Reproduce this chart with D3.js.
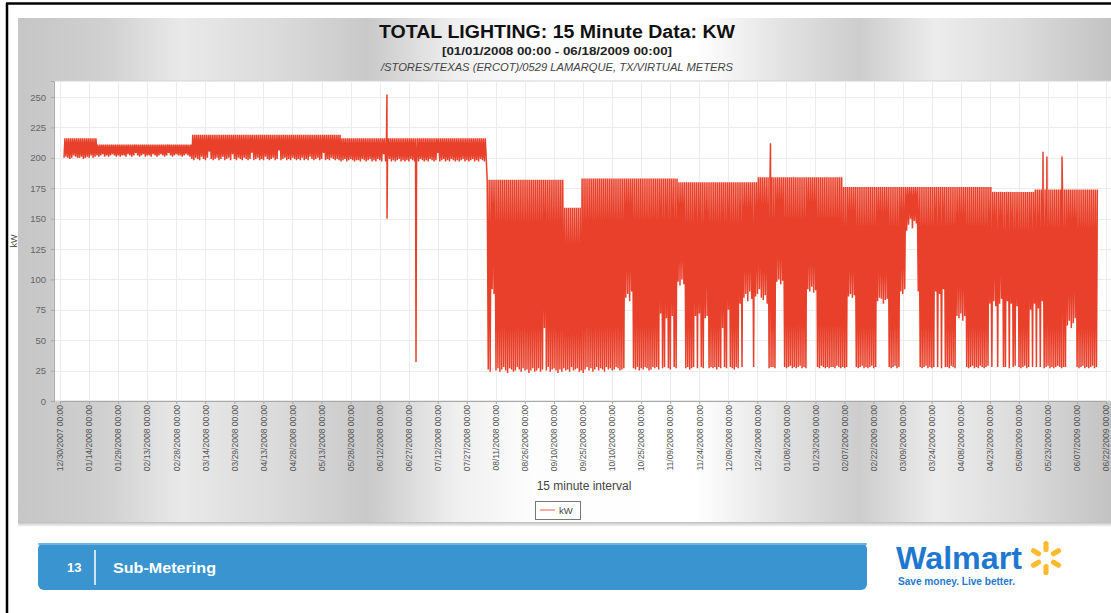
<!DOCTYPE html>
<html><head><meta charset="utf-8">
<script src="https://cdn.jsdelivr.net/npm/d3@7"></script>
<style>html,body{margin:0;padding:0;background:#fff;overflow:hidden}svg{display:block}</style>
</head><body>
<svg id="c" width="1111" height="613"></svg>
<script>
// ---------------- text ----------------
const chartTitle = "TOTAL LIGHTING: 15 Minute Data: KW";
const chartRange = "[01/01/2008 00:00 - 06/18/2009 00:00]";
const chartPath = "/STORES/TEXAS (ERCOT)/0529 LAMARQUE, TX/VIRTUAL METERS";
const xAxisTitle = "15 minute interval";
const yAxisTitle = "kW";
const seriesName = "kW";
const slideNumber = "13";
const slideSection = "Sub-Metering";

// ---------------- ticks ----------------
const yTicks = [0, 25, 50, 75, 100, 125, 150, 175, 200, 225, 250];
const xTickLabels = [
  "12/30/2007 00:00","01/14/2008 00:00","01/29/2008 00:00","02/13/2008 00:00","02/28/2008 00:00",
  "03/14/2008 00:00","03/29/2008 00:00","04/13/2008 00:00","04/28/2008 00:00","05/13/2008 00:00",
  "05/28/2008 00:00","06/12/2008 00:00","06/27/2008 00:00","07/12/2008 00:00","07/27/2008 00:00",
  "08/11/2008 00:00","08/26/2008 00:00","09/10/2008 00:00","09/25/2008 00:00","10/10/2008 00:00",
  "10/25/2008 00:00","11/09/2008 00:00","11/24/2008 00:00","12/09/2008 00:00","12/24/2008 00:00",
  "01/08/2009 00:00","01/23/2009 00:00","02/07/2009 00:00","02/22/2009 00:00","03/09/2009 00:00",
  "03/24/2009 00:00","04/08/2009 00:00","04/23/2009 00:00","05/08/2009 00:00","05/23/2009 00:00",
  "06/07/2009 00:00","06/22/2009 00:00"
];

// ---------------- data: night-time (low) kW, one value per day ----------------
const low2008_01 = [200,201,200,199,200,202,201,200,200,201,199,200,201,200,202,200,201,202,201,202,203,201,202,201,202,203,202,201,202,201,202];
const low2008_02 = [202,201,203,202,201,202,204,202,201,202,203,201,202,202,201,203,202,201,202,203,202,201,202,204,202,201,202,203,202];
const low2008_03 = [202,201,202,203,202,201,199,198,200,199,198,201,199,198,200,205,199,198,199,200,198,199,201,198,199,200,198,203,199,198,200];
const low2008_04 = [199,198,200,199,198,199,204,198,199,200,198,199,198,201,199,198,199,200,198,199,206,198,199,200,198,199,198,200,199,198];
const low2008_05 = [199,198,200,198,199,198,201,199,198,199,200,198,199,204,198,199,198,200,199,198,199,198,197,198,199,197,198,199,198,197,198];
const low2008_06 = [198,197,199,198,197,198,199,197,198,197,199,198,197,203,197,198,199,197,198,197,198,199,197,198,197,198,197,199,198,197];
const low2008_07 = [198,197,199,198,197,198,197,199,198,197,198,204,197,198,199,197,198,197,199,198,197,198,197,198,199,197,198,197,198,199,197];
const low2008_08 = [198,197,199,198,197,198,26,24,92,88,25,27,24,26,28,25,23,27,26,24,25,28,26,24,27,25,26,23,25,27,24];
const low2008_09 = [25,27,24,26,60,25,28,24,26,27,25,23,26,24,27,25,26,24,28,25,26,27,24,25,23,26,28,25,27,24];
const low2008_10 = [26,28,25,27,26,24,28,26,27,25,26,28,27,25,26,27,85,88,82,90,27,26,28,25,27,26,28,27,25,26,28];
const low2008_11 = [27,28,26,72,27,28,68,27,26,70,28,27,98,95,100,96,27,28,26,27,28,70,27,72,28,27,68,70,27,28];
const low2008_12 = [27,28,26,28,27,60,28,27,75,28,27,26,28,27,80,28,85,88,82,90,84,28,86,88,92,85,83,87,80,27,28];
const low2009_01 = [28,27,98,100,96,99,28,27,28,29,27,28,27,28,29,27,28,27,92,90,94,89,91,28,27,29,28,27,28,27,28];
const low2009_02 = [28,27,29,28,27,28,27,28,86,88,85,87,28,27,28,29,27,28,27,28,29,27,28,82,85,84,80,83];
const low2009_03 = [84,28,27,28,29,27,28,90,88,92,140,145,150,142,148,146,90,28,27,28,29,27,28,27,28,90,28,88,27,92,28];
const low2009_04 = [28,27,29,28,27,70,68,72,66,70,28,27,28,29,27,28,27,29,28,27,28,29,80,28,82,78,28,80,84,28];
const low2009_05 = [28,82,27,80,28,29,78,28,27,28,29,27,28,75,28,80,28,76,28,82,27,28,29,27,28,27,28,29,28,27,28];
const low2009_06 = [28,62,66,60,64,68,28,27,28,29,27,28,27,28,29,27,28];

// daytime (lights on) kW level, read as flat steps from the top edge of the trace
const dayLevelFrom = ["2008-01-01","2008-01-18","2008-03-07","2008-05-23","2008-08-06","2008-09-15","2008-09-24","2008-11-13","2008-12-24","2009-02-06","2009-04-24","2009-05-16"];
const dayLevelKw   = [216, 211, 219, 216, 182, 159, 183, 180, 184, 176, 172, 174];

// isolated readings (spikes)
const spikeTimes = ["2008-06-15T19:00","2008-06-15T20:00","2008-06-30T19:00","2008-12-30T19:00","2009-05-20T12:00","2009-05-22T12:00","2009-05-30T07:00"];
const spikeKw    = [252, 150, 32, 212, 205, 201, 201];

// ---------------- build series ----------------
const months = [
  [2008,1,low2008_01],[2008,2,low2008_02],[2008,3,low2008_03],[2008,4,low2008_04],[2008,5,low2008_05],
  [2008,6,low2008_06],[2008,7,low2008_07],[2008,8,low2008_08],[2008,9,low2008_09],[2008,10,low2008_10],
  [2008,11,low2008_11],[2008,12,low2008_12],[2009,1,low2009_01],[2009,2,low2009_02],[2009,3,low2009_03],
  [2009,4,low2009_04],[2009,5,low2009_05],[2009,6,low2009_06]
];
const parseDay = d3.utcParse("%Y-%m-%d");
const parseTime = d3.utcParse("%Y-%m-%dT%H:%M");
const parseTick = d3.utcParse("%m/%d/%Y %H:%M");
const levelStarts = dayLevelFrom.map(parseDay);
function dayLevel(t) {
  const k = d3.bisectRight(levelStarts, t) - 1;
  return dayLevelKw[Math.max(0, k)];
}
const series = [];
months.forEach(([yy, mm, lows]) => {
  lows.forEach((v, i) => {
    const day = Date.UTC(yy, mm - 1, i + 1);
    series.push({t: new Date(day + 2 * 3600e3), v: v});
    series.push({t: new Date(day + 13 * 3600e3), v: dayLevel(new Date(day))});
  });
});
spikeTimes.forEach((s, i) => series.push({t: parseTime(s), v: spikeKw[i]}));
series.sort((a, b) => a.t - b.t);

// ---------------- drawing ----------------
const svg = d3.select("#c");
const defs = svg.append("defs");
const FONT = "'Liberation Sans', Arial, Helvetica, sans-serif";

const grad = defs.append("linearGradient").attr("id", "panelGrad").attr("x1", 0).attr("x2", 1).attr("y1", 0).attr("y2", 0);
[[0,"#c6c6c6"],[0.08,"#d0d0d0"],[0.15,"#e9e9e9"],[0.24,"#dadada"],[0.32,"#c9c9c9"],[0.4,"#efefef"],[0.47,"#fdfdfd"],
 [0.62,"#ffffff"],[0.7,"#e2e2e2"],[0.77,"#cdcdcd"],[0.84,"#ececec"],[0.91,"#dddddd"],[1,"#c3c3c3"]]
  .forEach(([o, c]) => grad.append("stop").attr("offset", o).attr("stop-color", c));

const shadow = defs.append("linearGradient").attr("id", "shadowGrad").attr("x1", 0).attr("x2", 0).attr("y1", 0).attr("y2", 1);
shadow.append("stop").attr("offset", 0).attr("stop-color", "#bdbdbd");
shadow.append("stop").attr("offset", 1).attr("stop-color", "#ffffff");

// background panel
svg.append("rect").attr("x", 18).attr("y", 18).attr("width", 1093).attr("height", 504).attr("fill", "url(#panelGrad)");
svg.append("rect").attr("x", 18).attr("y", 522).attr("width", 1093).attr("height", 5).attr("fill", "url(#shadowGrad)");

// frame
svg.append("line").attr("x1", 6).attr("x2", 1111).attr("y1", 3.5).attr("y2", 3.5).attr("stroke", "#000").attr("stroke-width", 2.5);
svg.append("line").attr("x1", 7).attr("x2", 7).attr("y1", 3).attr("y2", 613).attr("stroke", "#000").attr("stroke-width", 2.5);

// titles
svg.append("text").attr("x", 557).attr("y", 38).attr("text-anchor", "middle").attr("font-family", FONT)
  .attr("font-size", 18).attr("font-weight", "bold").attr("fill", "#111")
  .attr("textLength", 356).attr("lengthAdjust", "spacingAndGlyphs").text(chartTitle);
svg.append("text").attr("x", 557).attr("y", 55).attr("text-anchor", "middle").attr("font-family", FONT)
  .attr("font-size", 11).attr("font-weight", "bold").attr("fill", "#222")
  .attr("textLength", 230).attr("lengthAdjust", "spacingAndGlyphs").text(chartRange);
svg.append("text").attr("x", 557).attr("y", 71).attr("text-anchor", "middle").attr("font-family", FONT)
  .attr("font-size", 10).attr("font-style", "italic").attr("fill", "#444")
  .attr("textLength", 352).attr("lengthAdjust", "spacingAndGlyphs").text(chartPath);

// plot area
const plot = {left: 54, right: 1111, top: 81, bottom: 401};
const tickDates = xTickLabels.map(parseTick);
const x = d3.scaleUtc()
  .domain([tickDates[0], tickDates[tickDates.length - 1]])
  .range([60, 1106]);
const y = d3.scaleLinear().domain([0, 263.2]).range([plot.bottom, plot.top]);

svg.append("rect").attr("x", plot.left).attr("y", plot.top).attr("width", plot.right - plot.left + 5)
  .attr("height", plot.bottom - plot.top).attr("fill", "#fff").attr("stroke", "#d4d4d4");

// grid
const grid = svg.append("g").attr("stroke", "#ececec").attr("stroke-width", 1);
grid.selectAll("line.h").data(yTicks.slice(1)).join("line")
  .attr("x1", plot.left).attr("x2", plot.right)
  .attr("y1", d => Math.round(y(d)) + 0.5).attr("y2", d => Math.round(y(d)) + 0.5);
grid.selectAll("line.v").data(tickDates).join("line")
  .attr("y1", plot.top).attr("y2", plot.bottom)
  .attr("x1", d => Math.round(x(d)) + 0.5).attr("x2", d => Math.round(x(d)) + 0.5);

// data line
defs.append("clipPath").attr("id", "plotClip").append("rect")
  .attr("x", plot.left).attr("y", plot.top).attr("width", plot.right - plot.left).attr("height", plot.bottom - plot.top);
const line = d3.line().x(d => x(d.t)).y(d => y(d.v));
svg.append("path").datum(series).attr("clip-path", "url(#plotClip)")
  .attr("fill", "none").attr("stroke", "#e8402a").attr("stroke-width", 1.5)
  .attr("stroke-linejoin", "miter").attr("d", line);

// y axis
const yAxis = svg.append("g").attr("transform", `translate(${plot.left},0)`)
  .call(d3.axisLeft(y).tickValues(yTicks).tickSize(3).tickPadding(5));
yAxis.select(".domain").attr("stroke", "#a8a8a8");
yAxis.selectAll(".tick line").attr("stroke", "#a8a8a8");
yAxis.selectAll(".tick text").attr("font-family", FONT).attr("font-size", 9.5).attr("fill", "#666");

// x axis
const xAxis = svg.append("g").attr("transform", `translate(0,${plot.bottom})`)
  .call(d3.axisBottom(x).tickValues(tickDates).tickSize(3).tickFormat((d, i) => xTickLabels[i]));
xAxis.select(".domain").attr("stroke", "#a8a8a8");
xAxis.selectAll(".tick line").attr("stroke", "#a8a8a8");
xAxis.selectAll(".tick text").attr("font-family", FONT).attr("font-size", 8.5).attr("fill", "#555")
  .attr("transform", "rotate(-90)").attr("text-anchor", "end")
  .attr("x", -4).attr("y", 0).attr("dy", "0.33em");

// axis titles
svg.append("text").attr("transform", "translate(17,241) rotate(-90)").attr("text-anchor", "middle")
  .attr("font-family", FONT).attr("font-size", 9).attr("fill", "#555").text(yAxisTitle);
svg.append("text").attr("x", 584).attr("y", 490).attr("text-anchor", "middle")
  .attr("font-family", FONT).attr("font-size", 12).attr("fill", "#444").text(xAxisTitle);

// legend
svg.append("rect").attr("x", 535.5).attr("y", 501.5).attr("width", 45).attr("height", 18)
  .attr("fill", "#fff").attr("stroke", "#777");
svg.append("line").attr("x1", 540).attr("x2", 555).attr("y1", 510).attr("y2", 510)
  .attr("stroke", "#ee7b6e").attr("stroke-width", 1.2);
svg.append("text").attr("x", 559).attr("y", 513.5).attr("font-family", FONT).attr("font-size", 9.5)
  .attr("fill", "#444").text(seriesName);

// footer banner
svg.append("rect").attr("x", 38).attr("y", 543).attr("width", 829).attr("height", 47).attr("rx", 6)
  .attr("fill", "#3994d0");
svg.append("rect").attr("x", 38).attr("y", 543).attr("width", 829).attr("height", 2).attr("rx", 1)
  .attr("fill", "#6fb2df");
svg.append("text").attr("x", 67).attr("y", 572).attr("font-family", FONT).attr("font-size", 13)
  .attr("font-weight", "bold").attr("fill", "#fff").text(slideNumber);
svg.append("line").attr("x1", 95).attr("x2", 95).attr("y1", 550).attr("y2", 585).attr("stroke", "#fff").attr("stroke-width", 1.5);
svg.append("text").attr("x", 113).attr("y", 573).attr("font-family", FONT).attr("font-size", 15)
  .attr("font-weight", "bold").attr("fill", "#fff")
  .attr("textLength", 103).attr("lengthAdjust", "spacingAndGlyphs").text(slideSection);

// Walmart logo
svg.append("text").attr("x", 896).attr("y", 569).attr("font-family", FONT).attr("font-size", 31)
  .attr("font-weight", "bold").attr("fill", "#1f78cf")
  .attr("textLength", 126).attr("lengthAdjust", "spacingAndGlyphs").text("Walmart");
svg.append("text").attr("x", 898).attr("y", 585).attr("font-family", FONT).attr("font-size", 10)
  .attr("font-weight", "bold").attr("fill", "#1f78cf")
  .attr("textLength", 117).attr("lengthAdjust", "spacingAndGlyphs").text("Save money. Live better.");
const spark = svg.append("g").attr("transform", "translate(1046,558)");
[0, 60, 120, 180, 240, 300].forEach(a => {
  spark.append("rect").attr("x", -2.6).attr("y", -17).attr("width", 5.2).attr("height", 11).attr("rx", 2.6)
    .attr("fill", "#fdbb30").attr("transform", `rotate(${a})`);
});
</script>
</body></html>
